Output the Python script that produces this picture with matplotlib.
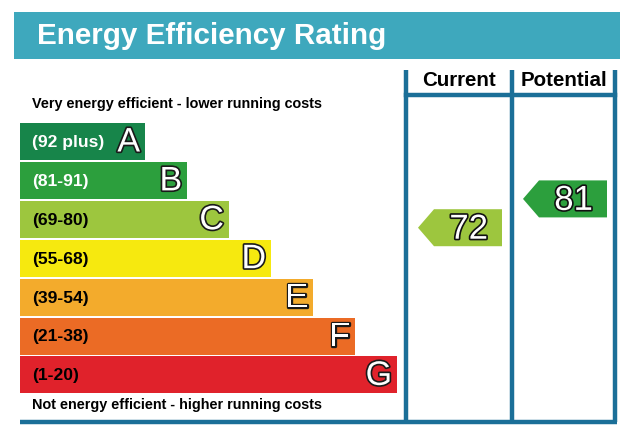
import matplotlib.pyplot as plt
from matplotlib.patches import Polygon, Rectangle
import matplotlib.patheffects as pe

plt.rcParams['font.family'] = ['Liberation Sans', 'DejaVu Sans']

# band data
bands = ['A', 'B', 'C', 'D', 'E', 'F', 'G']
ranges = ['(92 plus)', '(81-91)', '(69-80)', '(55-68)', '(39-54)', '(21-38)', '(1-20)']
lower = [92, 81, 69, 55, 39, 21, 1]
upper = [100, 91, 80, 68, 54, 38, 20]
colors = ['#17854a', '#2c9f3d', '#9dc63e', '#f6e90f', '#f3ab2c', '#eb6b25', '#e0222b']
range_text_col = ['white', 'white', 'black', 'black', 'black', 'black', 'black']

current = 72
potential = 81

title = 'Energy Efficiency Rating'
top_note = 'Very energy efficient - lower running costs'
bottom_note = 'Not energy efficient - higher running costs'
col_labels = ['Current', 'Potential']

fig = plt.figure(figsize=(6.44, 4.37), dpi=100)
ax = fig.add_axes([0, 0, 1, 1])
ax.set_xlim(0, 644)
ax.set_ylim(437, 0)
ax.axis('off')

line_col = '#1b6f98'

# header
ax.add_patch(Rectangle((14, 12), 606, 47, color='#3ea8bd', lw=0))
ax.text(37, 36, title, color='white', fontsize=21.3, fontweight='bold', va='center')

# bars
bar_h = 37
pitch = 38.9
y0 = 123
outline = [pe.withStroke(linewidth=2.4, foreground='#1a1a1a')]
for i, b in enumerate(bands):
    top = y0 + i * pitch
    right = 145 + 42 * i
    ax.barh(top + bar_h / 2, right - 20, left=20, height=bar_h, color=colors[i], lw=0)
    ax.text(32, top + bar_h / 2 + 1, ranges[i], color=range_text_col[i], fontsize=12.6,
            fontweight='bold', va='center')
    ax.text(right - 5, top + bar_h / 2 + 1.5, b, color='white', fontsize=24.5, ha='right',
            va='center', path_effects=outline)

ax.text(32, 104, top_note, fontsize=10.4, fontweight='bold', va='center')
ax.text(32, 405, bottom_note, fontsize=10.4, fontweight='bold', va='center')

# frame lines
lw = 3.2
for x in [406, 512, 615]:
    ax.plot([x, x], [70, 422], color=line_col, lw=lw, solid_capstyle='butt')
ax.plot([406, 615], [95, 95], color=line_col, lw=lw)
ax.plot([20, 617], [422, 422], color=line_col, lw=lw, solid_capstyle='butt')
ax.text(459.5, 81, col_labels[0], fontsize=14.8, fontweight='bold', ha='center', va='center')
ax.text(564, 81, col_labels[1], fontsize=14.8, fontweight='bold', ha='center', va='center')


def band_of(r):
    for i in range(len(bands)):
        if lower[i] <= r <= upper[i]:
            return i
    return len(bands) - 1


def arrow(r, tip_x, right_x):
    i = band_of(r)
    frac = (upper[i] - r) / (upper[i] - lower[i])
    cy = y0 + i * pitch + frac * bar_h
    h = bar_h
    pts = [(tip_x, cy), (tip_x + 16, cy - h / 2), (right_x, cy - h / 2),
           (right_x, cy + h / 2), (tip_x + 16, cy + h / 2)]
    ax.add_patch(Polygon(pts, closed=True, color=colors[i], lw=0))
    ax.text(right_x - 14, cy + 1.5, str(r), color='white', fontsize=25, ha='right', va='center',
            path_effects=[pe.withStroke(linewidth=2.4, foreground='#111111')])


arrow(current, 418, 502)
arrow(potential, 523, 607)

fig.savefig('out.png', dpi=100)
